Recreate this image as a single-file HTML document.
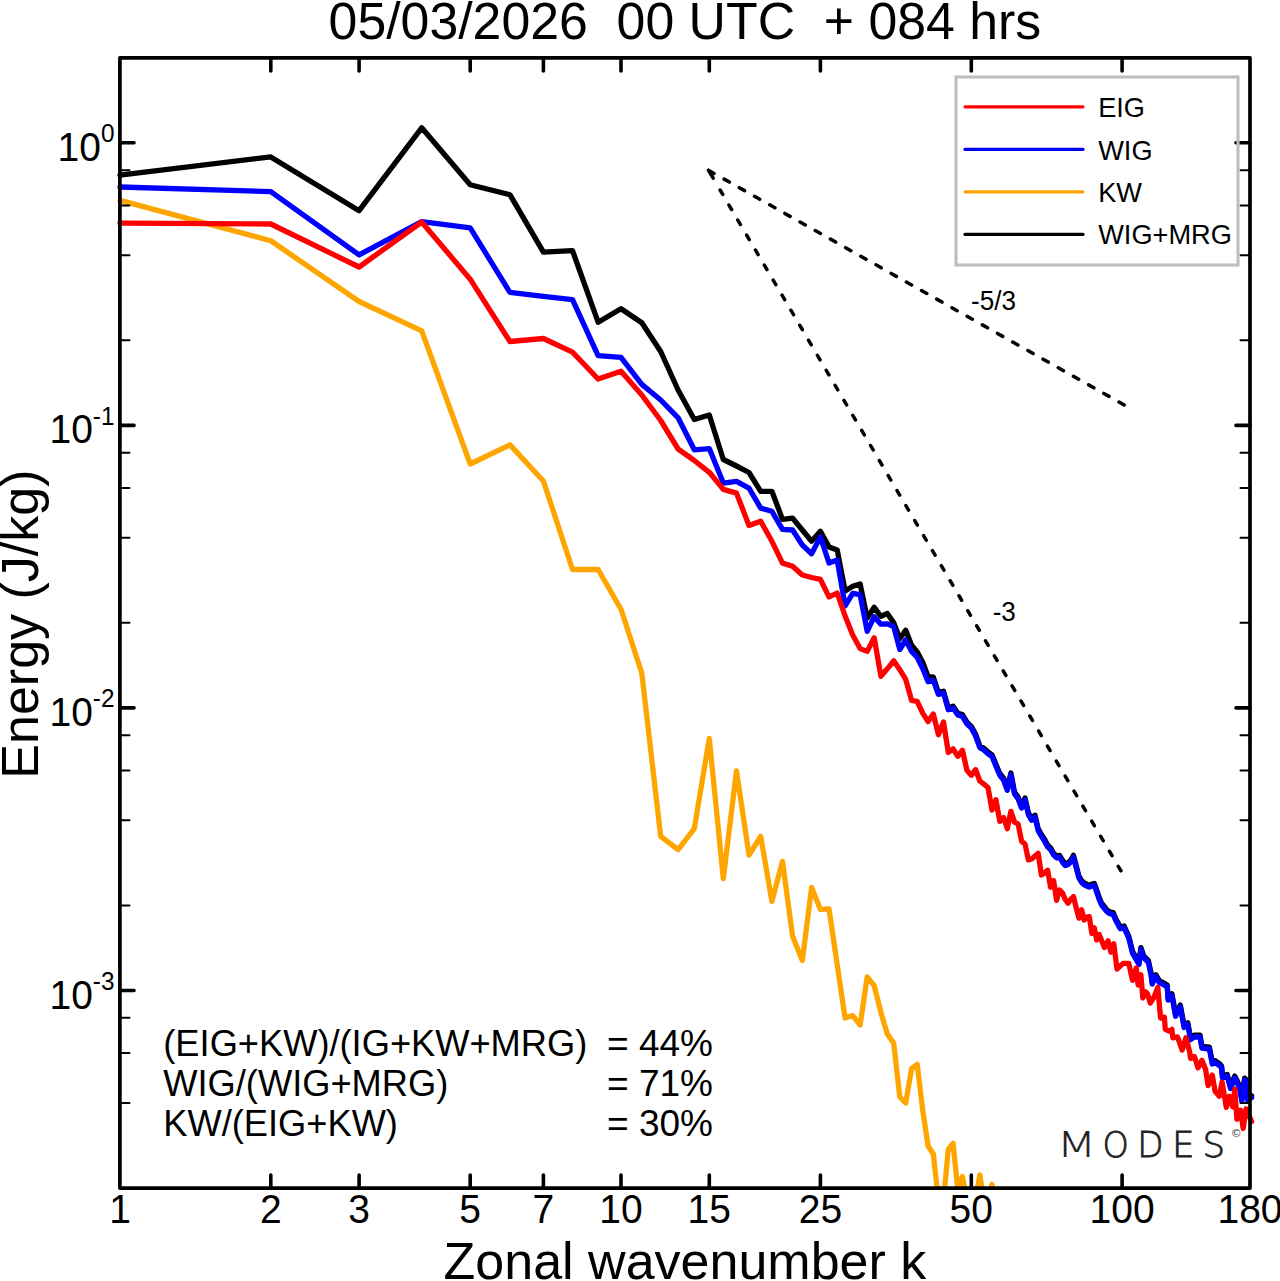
<!DOCTYPE html>
<html><head><meta charset="utf-8"><style>
html,body{margin:0;padding:0;background:#fff;}
svg{display:block;}
.tk{stroke:#000;stroke-width:3.6;stroke-linecap:round;}
.mt{stroke:#000;stroke-width:2;stroke-linecap:round;}
.d{fill:none;stroke-width:5.3;stroke-linejoin:round;stroke-linecap:round;}
text{font-family:"Liberation Sans",Arial,Helvetica,sans-serif;fill:#000;}
text.lg{font-family:"DejaVu Sans",sans-serif;font-weight:200;fill:#222;}
text.cp{font-family:"DejaVu Sans",sans-serif;fill:#444;}
</style></head><body>
<svg width="1280" height="1281" viewBox="0 0 1280 1281">
<rect width="1280" height="1281" fill="#fff"/>
<defs><clipPath id="pc"><rect x="0" y="57.8" width="1280" height="1130.2"/></clipPath></defs>
<text x="328.6" y="39.2" font-size="51.8" style="white-space:pre">05/03/2026  00 UTC  + 084 hrs</text>
<g clip-path="url(#pc)">
<path class="d" stroke="#000" d="M120.0,175.2 L270.8,156.9 L359.1,210.7 L421.7,127.8 L470.2,184.7 L509.9,194.7 L543.4,252.2 L572.5,250.6 L598.1,322.2 L621.0,308.7 L641.8,322.7 L660.7,351.5 L678.1,390.0 L694.3,419.5 L709.3,415.0 L723.3,459.5 L736.5,466.0 L749.0,472.5 L760.7,491.3 L771.9,491.3 L782.5,519.4 L792.6,518.1 L802.3,530.0 L811.6,541.3 L820.4,531.3 L829.0,546.9 L837.2,550.0 L845.1,590.9 L852.7,586.3 L860.1,583.9 L867.2,618.1 L874.2,607.3 L880.9,616.3 L887.3,613.4 L893.7,622.8 L899.8,638.8 L905.7,630.3 L911.6,645.3 L917.2,651.9 L922.7,662.2 L928.1,676.7 L933.3,677.2 L938.4,692.6 L943.5,691.2 L948.3,708.0 L953.1,706.2 L957.8,713.2 L962.4,714.6 L966.9,722.1 L971.3,726.3 L975.6,734.2 L979.8,745.9 L983.9,748.2 L988.0,752.0 L992.0,754.8 L995.9,764.2 L999.8,773.5 L1003.6,778.2 L1007.3,788.5 L1010.9,773.0 L1014.5,792.2 L1018.1,797.0 L1021.6,806.3 L1025.0,797.9 L1028.4,812.9 L1031.7,818.5 L1035.0,815.2 L1038.2,828.8 L1041.4,834.5 L1044.5,839.2 L1047.6,845.1 L1050.6,847.9 L1053.6,853.2 L1056.6,856.2 L1059.5,855.4 L1062.4,860.2 L1065.2,863.8 L1068.0,862.9 L1070.8,860.2 L1073.5,855.4 L1076.2,865.7 L1078.9,876.2 L1081.6,880.7 L1084.2,883.0 L1086.7,884.2 L1089.3,885.4 L1091.8,884.2 L1094.3,883.5 L1096.7,890.2 L1099.2,897.6 L1101.6,903.2 L1104.0,906.2 L1106.3,909.2 L1108.6,911.2 L1110.9,912.2 L1113.2,912.6 L1115.5,918.2 L1120.3,927.0 L1124.1,926.0 L1128.8,936.3 L1132.5,951.3 L1136.2,957.9 L1139.0,962.6 L1140.9,947.6 L1143.8,956.0 L1148.4,960.7 L1151.2,973.8 L1152.2,982.2 L1155.9,974.8 L1159.7,981.3 L1162.5,982.2 L1167.2,985.1 L1168.1,998.2 L1171.9,993.8 L1175.6,1014.5 L1180.3,1005.1 L1184.1,1025.7 L1187.8,1022.9 L1190.6,1037.9 L1194.4,1035.1 L1200.0,1035.2 L1201.9,1046.3 L1209.4,1047.2 L1212.3,1062.2 L1215.1,1060.7 L1220.0,1064.2 L1221.6,1066.2 L1222.5,1076.2 L1227.2,1074.5 L1230.6,1086.7 L1234.8,1076.1 L1237.6,1081.7 L1240.4,1090.2 L1241.8,1099.2 L1244.6,1078.2 L1246.7,1080.3 L1247.4,1097.9 L1251.6,1095.8"/>
<path class="d" stroke="#00f" d="M120.0,187.0 L270.8,191.6 L359.1,254.9 L421.7,221.6 L470.2,227.9 L509.9,292.4 L543.4,296.3 L572.5,299.7 L598.1,355.6 L621.0,357.3 L641.8,384.4 L660.7,400.0 L678.1,417.8 L694.3,449.8 L709.3,448.6 L723.3,483.1 L736.5,481.3 L749.0,488.1 L760.7,508.1 L771.9,511.3 L782.5,529.4 L792.6,530.0 L802.3,545.0 L811.6,553.8 L820.4,536.9 L829.0,563.0 L837.2,560.0 L845.1,605.9 L852.7,593.3 L860.1,594.7 L867.2,631.3 L874.2,616.7 L880.9,624.2 L887.3,623.8 L893.7,626.6 L899.8,649.5 L905.7,640.0 L911.6,651.5 L917.2,657.5 L922.7,668.5 L928.1,681.7 L933.3,680.3 L938.4,694.4 L943.5,693.0 L948.3,709.8 L953.1,708.0 L957.8,715.0 L962.4,716.4 L966.9,723.9 L971.3,728.1 L975.6,736.0 L979.8,747.7 L983.9,750.0 L988.0,753.8 L992.0,756.6 L995.9,766.0 L999.8,775.3 L1003.6,780.0 L1007.3,790.3 L1010.9,774.8 L1014.5,794.0 L1018.1,798.8 L1021.6,808.1 L1025.0,799.7 L1028.4,814.7 L1031.7,820.3 L1035.0,817.0 L1038.2,830.6 L1041.4,836.3 L1044.5,841.0 L1047.6,846.9 L1050.6,849.7 L1053.6,855.0 L1056.6,858.0 L1059.5,857.2 L1062.4,862.0 L1065.2,865.6 L1068.0,864.7 L1070.8,862.0 L1073.5,857.2 L1076.2,867.5 L1078.9,878.0 L1081.6,882.5 L1084.2,884.8 L1086.7,886.0 L1089.3,887.2 L1091.8,886.0 L1094.3,885.3 L1096.7,892.0 L1099.2,899.4 L1101.6,905.0 L1104.0,908.0 L1106.3,911.0 L1108.6,913.0 L1110.9,914.0 L1113.2,914.4 L1115.5,920.0 L1120.3,928.8 L1124.1,927.8 L1128.8,938.1 L1132.5,953.1 L1136.2,959.7 L1139.0,964.4 L1140.9,949.4 L1143.8,957.8 L1148.4,962.5 L1151.2,975.6 L1152.2,984.0 L1155.9,976.6 L1159.7,983.1 L1162.5,984.0 L1167.2,986.9 L1168.1,1000.0 L1171.9,995.6 L1175.6,1016.2 L1180.3,1006.9 L1184.1,1027.5 L1187.8,1024.7 L1190.6,1039.7 L1194.4,1036.9 L1200.0,1037.0 L1201.9,1048.1 L1209.4,1049.0 L1212.3,1064.0 L1215.1,1062.5 L1220.0,1066.0 L1221.6,1068.0 L1222.5,1078.0 L1227.2,1076.2 L1230.6,1088.5 L1234.8,1077.9 L1237.6,1083.5 L1240.4,1092.0 L1241.8,1101.0 L1244.6,1080.0 L1246.7,1082.1 L1247.4,1099.7 L1251.6,1097.6"/>
<path class="d" stroke="#ffa500" d="M120.0,200.4 L270.8,240.8 L359.1,301.5 L421.7,330.8 L470.2,464.0 L509.9,444.8 L543.4,481.0 L572.5,569.5 L598.1,569.5 L621.0,609.2 L641.8,673.3 L660.7,836.4 L678.1,849.7 L694.3,828.6 L709.3,738.4 L723.3,878.6 L736.5,770.8 L749.0,855.2 L760.7,836.4 L771.9,901.3 L782.5,861.4 L792.6,936.3 L802.3,960.6 L811.6,887.5 L820.4,909.4 L829.0,908.8 L837.2,964.7 L845.1,1018.1 L852.7,1015.6 L860.1,1025.0 L867.2,976.9 L874.2,985.6 L880.9,1012.5 L887.3,1033.9 L893.7,1043.2 L899.8,1097.0 L905.7,1103.0 L911.6,1068.4 L917.2,1064.4 L922.7,1110.2 L928.1,1146.0 L933.3,1154.0 L938.4,1200.0 L943.5,1200.0 L948.3,1149.4 L953.1,1143.4 L957.8,1190.0 L962.4,1176.5 L966.9,1200.0 L971.3,1200.0 L975.6,1200.0 L979.8,1175.0 L983.9,1200.0 L988.0,1200.0 L992.0,1184.5 L995.9,1210.0"/>
<path class="d" stroke="#f00" d="M120.0,223.1 L270.8,224.0 L359.1,267.0 L421.7,222.0 L470.2,279.2 L509.9,341.5 L543.4,338.5 L572.5,352.2 L598.1,379.0 L621.0,371.3 L641.8,395.0 L660.7,420.5 L678.1,449.0 L694.3,460.5 L709.3,472.3 L723.3,489.4 L736.5,493.1 L749.0,525.6 L760.7,521.3 L771.9,541.3 L782.5,563.1 L792.6,566.3 L802.3,575.0 L811.6,577.5 L820.4,579.4 L829.0,596.9 L837.2,593.1 L845.1,616.0 L852.7,635.0 L860.1,648.6 L867.2,651.4 L874.2,637.8 L880.9,676.3 L887.3,668.8 L893.7,660.8 L899.8,669.7 L905.7,679.4 L911.6,700.5 L917.2,701.4 L922.7,713.1 L928.1,721.6 L933.3,714.0 L938.4,734.7 L943.5,722.0 L948.3,752.5 L953.1,748.8 L957.8,756.3 L962.4,750.2 L966.9,770.2 L971.3,775.3 L975.6,769.7 L979.8,781.0 L983.9,784.2 L988.0,787.5 L992.0,810.0 L995.9,799.7 L999.8,821.3 L1003.6,817.5 L1007.3,828.8 L1010.9,811.4 L1014.5,822.2 L1018.1,824.0 L1021.6,841.3 L1025.0,844.0 L1028.4,860.0 L1031.7,859.0 L1035.0,856.0 L1038.2,853.4 L1041.4,875.0 L1044.5,873.0 L1047.6,870.3 L1050.6,887.2 L1053.6,880.6 L1056.6,900.3 L1059.5,890.0 L1062.4,892.8 L1065.2,899.4 L1068.0,903.1 L1070.8,899.4 L1073.5,896.6 L1076.2,907.8 L1078.9,918.1 L1081.6,909.7 L1084.2,920.0 L1086.7,917.2 L1089.3,916.6 L1091.8,933.4 L1094.3,927.8 L1096.7,940.0 L1099.2,934.4 L1104.4,947.5 L1108.1,940.9 L1110.9,952.2 L1113.8,943.8 L1117.0,969.0 L1123.1,963.4 L1128.8,963.4 L1132.5,980.3 L1136.2,968.1 L1138.1,985.0 L1140.9,974.7 L1142.8,998.0 L1145.6,991.8 L1147.5,993.8 L1150.3,1003.0 L1154.1,997.0 L1157.8,987.5 L1160.6,1018.1 L1164.4,1017.2 L1165.3,1029.4 L1169.1,1031.2 L1171.9,1029.4 L1172.8,1037.8 L1177.5,1036.9 L1182.2,1050.0 L1185.9,1037.8 L1189.7,1052.0 L1190.6,1058.4 L1194.4,1056.6 L1198.1,1067.8 L1201.9,1060.3 L1205.6,1069.5 L1208.1,1085.6 L1212.3,1075.1 L1215.1,1091.3 L1219.3,1096.2 L1222.1,1082.1 L1226.3,1107.4 L1229.2,1096.2 L1232.7,1106.7 L1234.8,1089.2 L1236.9,1119.4 L1240.4,1110.2 L1243.2,1128.5 L1246.0,1108.8 L1251.6,1121.5"/>
</g>
<path d="M708.50,170.30L713.99,173.40M724.12,179.12L729.35,182.07M739.31,187.69L744.54,190.64M754.50,196.26L759.72,199.21M769.69,204.84L774.91,207.79M784.87,213.41L790.10,216.36M800.06,221.98L805.29,224.93M815.25,230.56L820.47,233.50M830.44,239.13L835.66,242.08M845.62,247.70L850.85,250.65M860.81,256.27L866.04,259.22M876.00,264.85L881.22,267.80M891.19,273.42L896.41,276.37M906.37,281.99L911.60,284.94M921.56,290.57L926.79,293.51M936.75,299.14L941.97,302.09M951.94,307.71L957.16,310.66M967.12,316.28L972.35,319.23M982.31,324.86L987.54,327.81M997.50,333.43L1002.72,336.38M1012.69,342.00L1017.91,344.95M1027.87,350.58L1033.10,353.52M1043.06,359.15L1048.29,362.10M1058.25,367.72L1063.47,370.67M1073.44,376.29L1078.66,379.24M1088.62,384.87L1093.85,387.82M1103.81,393.44L1109.04,396.39M1119.00,402.01L1124.22,404.96M708.50,170.30L713.17,178.23M720.09,189.99L722.73,194.47M728.94,205.02L731.58,209.50M737.79,220.05L740.43,224.53M746.64,235.08L749.28,239.56M755.49,250.11L758.12,254.59M764.33,265.13L766.97,269.61M773.18,280.16L775.82,284.64M782.03,295.19L784.67,299.67M790.88,310.22L793.52,314.70M799.73,325.25L802.37,329.73M808.58,340.28L811.21,344.76M817.42,355.31L820.06,359.79M826.27,370.33L828.91,374.82M835.12,385.36L837.76,389.84M843.97,400.39L846.61,404.87M852.82,415.42L855.46,419.90M861.67,430.45L864.30,434.93M870.51,445.48L873.15,449.96M879.36,460.51L882.00,464.99M888.21,475.54L890.85,480.02M897.06,490.56L899.70,495.04M905.91,505.59L908.55,510.07M914.76,520.62L917.39,525.10M923.60,535.65L926.24,540.13M932.45,550.68L935.09,555.16M941.30,565.71L943.94,570.19M950.15,580.74L952.79,585.22M959.00,595.76L961.64,600.25M967.85,610.79L970.48,615.27M976.69,625.82L979.33,630.30M985.54,640.85L988.18,645.33M994.39,655.88L997.03,660.36M1003.24,670.91L1005.88,675.39M1012.09,685.94L1014.73,690.42M1020.94,700.97L1023.57,705.45M1029.78,715.99L1032.42,720.47M1038.63,731.02L1041.27,735.50M1047.48,746.05L1050.12,750.53M1056.33,761.08L1058.97,765.56M1065.18,776.11L1067.82,780.59M1074.03,791.14L1076.66,795.62M1082.87,806.17L1085.51,810.65M1091.72,821.19L1094.36,825.68M1100.57,836.22L1103.21,840.70M1109.42,851.25L1112.06,855.73M1118.27,866.28L1120.91,870.76" fill="none" stroke="#000" stroke-width="3.5" stroke-linecap="round"/>
<text transform="translate(971,310.2) scale(0.965,1)" font-size="27">-5/3</text>
<text transform="translate(992.7,620.6) scale(0.965,1)" font-size="27">-3</text>
<line x1="120" y1="1187.9" x2="129.5" y2="1187.9" class="mt"/><line x1="1250" y1="1187.9" x2="1240.5" y2="1187.9" class="mt"/><line x1="120" y1="1102.9" x2="129.5" y2="1102.9" class="mt"/><line x1="1250" y1="1102.9" x2="1240.5" y2="1102.9" class="mt"/><line x1="120" y1="1053.1" x2="129.5" y2="1053.1" class="mt"/><line x1="1250" y1="1053.1" x2="1240.5" y2="1053.1" class="mt"/><line x1="120" y1="1017.8" x2="129.5" y2="1017.8" class="mt"/><line x1="1250" y1="1017.8" x2="1240.5" y2="1017.8" class="mt"/><line x1="120" y1="990.5" x2="134" y2="990.5" class="tk"/><line x1="1250" y1="990.5" x2="1236" y2="990.5" class="tk"/><line x1="120" y1="905.4" x2="129.5" y2="905.4" class="mt"/><line x1="1250" y1="905.4" x2="1240.5" y2="905.4" class="mt"/><line x1="120" y1="820.3" x2="129.5" y2="820.3" class="mt"/><line x1="1250" y1="820.3" x2="1240.5" y2="820.3" class="mt"/><line x1="120" y1="770.6" x2="129.5" y2="770.6" class="mt"/><line x1="1250" y1="770.6" x2="1240.5" y2="770.6" class="mt"/><line x1="120" y1="735.3" x2="129.5" y2="735.3" class="mt"/><line x1="1250" y1="735.3" x2="1240.5" y2="735.3" class="mt"/><line x1="120" y1="707.9" x2="134" y2="707.9" class="tk"/><line x1="1250" y1="707.9" x2="1236" y2="707.9" class="tk"/><line x1="120" y1="622.8" x2="129.5" y2="622.8" class="mt"/><line x1="1250" y1="622.8" x2="1240.5" y2="622.8" class="mt"/><line x1="120" y1="537.8" x2="129.5" y2="537.8" class="mt"/><line x1="1250" y1="537.8" x2="1240.5" y2="537.8" class="mt"/><line x1="120" y1="488.0" x2="129.5" y2="488.0" class="mt"/><line x1="1250" y1="488.0" x2="1240.5" y2="488.0" class="mt"/><line x1="120" y1="452.7" x2="129.5" y2="452.7" class="mt"/><line x1="1250" y1="452.7" x2="1240.5" y2="452.7" class="mt"/><line x1="120" y1="425.4" x2="134" y2="425.4" class="tk"/><line x1="1250" y1="425.4" x2="1236" y2="425.4" class="tk"/><line x1="120" y1="340.3" x2="129.5" y2="340.3" class="mt"/><line x1="1250" y1="340.3" x2="1240.5" y2="340.3" class="mt"/><line x1="120" y1="255.2" x2="129.5" y2="255.2" class="mt"/><line x1="1250" y1="255.2" x2="1240.5" y2="255.2" class="mt"/><line x1="120" y1="205.5" x2="129.5" y2="205.5" class="mt"/><line x1="1250" y1="205.5" x2="1240.5" y2="205.5" class="mt"/><line x1="120" y1="170.2" x2="129.5" y2="170.2" class="mt"/><line x1="1250" y1="170.2" x2="1240.5" y2="170.2" class="mt"/><line x1="120" y1="142.8" x2="134" y2="142.8" class="tk"/><line x1="1250" y1="142.8" x2="1236" y2="142.8" class="tk"/><line x1="120" y1="57.7" x2="129.5" y2="57.7" class="mt"/><line x1="1250" y1="57.7" x2="1240.5" y2="57.7" class="mt"/><line x1="270.8" y1="1188" x2="270.8" y2="1175" class="tk"/><line x1="270.8" y1="58" x2="270.8" y2="71" class="tk"/><line x1="359.1" y1="1188" x2="359.1" y2="1175" class="tk"/><line x1="359.1" y1="58" x2="359.1" y2="71" class="tk"/><line x1="470.2" y1="1188" x2="470.2" y2="1175" class="tk"/><line x1="470.2" y1="58" x2="470.2" y2="71" class="tk"/><line x1="543.4" y1="1188" x2="543.4" y2="1175" class="tk"/><line x1="543.4" y1="58" x2="543.4" y2="71" class="tk"/><line x1="621.0" y1="1188" x2="621.0" y2="1175" class="tk"/><line x1="621.0" y1="58" x2="621.0" y2="71" class="tk"/><line x1="709.3" y1="1188" x2="709.3" y2="1175" class="tk"/><line x1="709.3" y1="58" x2="709.3" y2="71" class="tk"/><line x1="820.4" y1="1188" x2="820.4" y2="1175" class="tk"/><line x1="820.4" y1="58" x2="820.4" y2="71" class="tk"/><line x1="971.3" y1="1188" x2="971.3" y2="1175" class="tk"/><line x1="971.3" y1="58" x2="971.3" y2="71" class="tk"/><line x1="1122.1" y1="1188" x2="1122.1" y2="1175" class="tk"/><line x1="1122.1" y1="58" x2="1122.1" y2="71" class="tk"/>
<rect x="119.9" y="57.8" width="1130.1" height="1130.3" fill="none" stroke="#000" stroke-width="3.7" stroke-linejoin="round"/>
<g font-size="40"><text transform="translate(120.0,1222.5) scale(0.975,1)" text-anchor="middle">1</text><text transform="translate(270.8,1222.5) scale(0.975,1)" text-anchor="middle">2</text><text transform="translate(359.1,1222.5) scale(0.975,1)" text-anchor="middle">3</text><text transform="translate(470.2,1222.5) scale(0.975,1)" text-anchor="middle">5</text><text transform="translate(543.4,1222.5) scale(0.975,1)" text-anchor="middle">7</text><text transform="translate(621.0,1222.5) scale(0.975,1)" text-anchor="middle">10</text><text transform="translate(709.3,1222.5) scale(0.975,1)" text-anchor="middle">15</text><text transform="translate(820.4,1222.5) scale(0.975,1)" text-anchor="middle">25</text><text transform="translate(971.3,1222.5) scale(0.975,1)" text-anchor="middle">50</text><text transform="translate(1122.1,1222.5) scale(0.975,1)" text-anchor="middle">100</text><text transform="translate(1250.0,1222.5) scale(0.975,1)" text-anchor="middle">180</text></g>
<g font-size="40"><text transform="translate(114.5,160.8) scale(0.975,1)" text-anchor="end">10<tspan dy="-18.5" font-size="25">0</tspan></text><text transform="translate(114.5,443.4) scale(0.975,1)" text-anchor="end">10<tspan dy="-18.5" font-size="25">-1</tspan></text><text transform="translate(114.5,725.9) scale(0.975,1)" text-anchor="end">10<tspan dy="-18.5" font-size="25">-2</tspan></text><text transform="translate(114.5,1008.5) scale(0.975,1)" text-anchor="end">10<tspan dy="-18.5" font-size="25">-3</tspan></text></g>
<text transform="translate(38,778.7) rotate(-90)" font-size="52">Energy (J/kg)</text>
<text x="443.6" y="1279.4" font-size="52">Zonal wavenumber k</text>
<rect x="956" y="77" width="282" height="188" fill="none" stroke="#bebebe" stroke-width="3.1"/>
<g stroke-width="3.2" stroke-linecap="round">
<line x1="965" y1="106.8" x2="1083" y2="106.8" stroke="#f00"/>
<line x1="965" y1="149.3" x2="1083" y2="149.3" stroke="#00f"/>
<line x1="965" y1="191.8" x2="1083" y2="191.8" stroke="#ffa500"/>
<line x1="965" y1="234.3" x2="1083" y2="234.3" stroke="#000"/>
</g>
<g font-size="27.2">
<text x="1098.2" y="117.3">EIG</text>
<text x="1098.2" y="159.8">WIG</text>
<text x="1098.2" y="202.3">KW</text>
<text x="1098.2" y="244.3">WIG+MRG</text>
</g>
<g font-size="37">
<text transform="translate(163.3,1055.9) scale(0.98,1)">(EIG+KW)/(IG+KW+MRG)</text>
<text transform="translate(163.3,1096.2) scale(0.98,1)">WIG/(WIG+MRG)</text>
<text transform="translate(163.3,1136.4) scale(0.98,1)">KW/(EIG+KW)</text>
<text x="607" y="1055.7">= 44%</text>
<text x="607" y="1096">= 71%</text>
<text x="607" y="1136.2">= 30%</text>
</g>
<g font-size="36" fill="#222" stroke="#222" stroke-width="0.8">
<text class="lg" transform="translate(1056.6,1157.2) scale(1.29,1)" stroke-width="0.2">M</text>
<text class="lg" transform="translate(1102.4,1157.2) scale(0.93,1)">O</text>
<text class="lg" transform="translate(1137.2,1157.2) scale(0.948,1)">D</text>
<text class="lg" transform="translate(1171.9,1157.2) scale(0.994,1)">E</text>
<text class="lg" transform="translate(1202.4,1157.2) scale(0.99,1)">S</text>
</g>
<text class="cp" x="1236.2" y="1137" font-size="11" text-anchor="middle">©</text>
</svg>
</body></html>
